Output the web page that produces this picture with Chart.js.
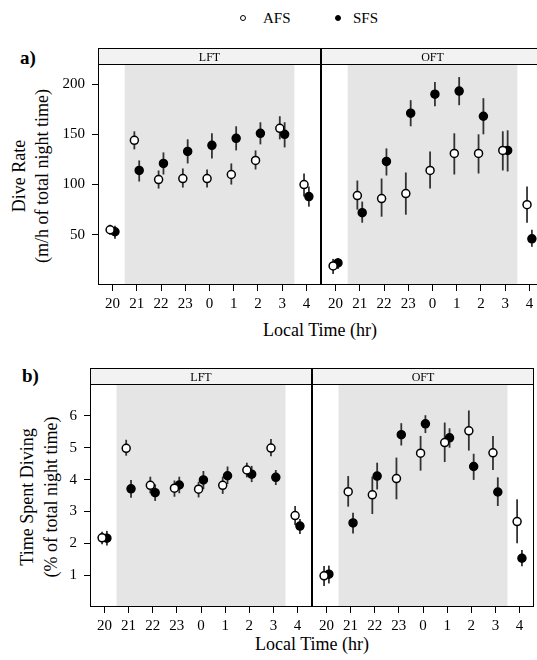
<!DOCTYPE html>
<html>
<head>
<meta charset="utf-8">
<script src="https://cdn.jsdelivr.net/npm/chart.js@4/dist/chart.umd.min.js"></script>
<style>
  html, body { margin: 0; padding: 0; background: #fff; overflow: hidden; }
  body { width: 537px; height: 660px; position: relative; font-family: "Liberation Serif", "Times New Roman", serif; color: #000; }
  canvas { position: absolute; }
  .txt { position: absolute; white-space: nowrap; line-height: 1; }
  .rot { transform: translate(-50%, -50%) rotate(-90deg); text-align: center; font-size: 18px; }
  .dot { position: absolute; width: 6px; height: 6px; border-radius: 50%; border: 1.5px solid #000; box-sizing: border-box; }
</style>
</head>
<body>

<div class="dot" style="left:240px; top:15px; background:#fff;"></div>
<div class="txt" style="left:263px; top:11px; font-size:15px;">AFS</div>
<div class="dot" style="left:335px; top:15px; background:#000;"></div>
<div class="txt" style="left:353px; top:11px; font-size:15px;">SFS</div>

<div class="txt" style="left:20px; top:48px; font-size:19px; font-weight:bold;">a)</div>
<div class="txt" style="left:22px; top:366px; font-size:19px; font-weight:bold;">b)</div>

<div class="txt rot" style="left:19px; top:176px;">Dive Rate</div>
<div class="txt rot" style="left:42px; top:176px;">(m/h of total night time)</div>
<div class="txt rot" style="left:27px; top:497px;">Time Spent Diving</div>
<div class="txt rot" style="left:51px; top:497px;">(% of total night time)</div>

<div class="txt" style="left:320px; top:321px; font-size:18px; transform:translateX(-50%);">Local Time (hr)</div>
<div class="txt" style="left:312px; top:635px; font-size:18px; transform:translateX(-50%);">Local Time (hr)</div>

<canvas id="aL" width="281" height="272" style="left:40px; top:48px;"></canvas>
<canvas id="aO" width="223" height="272" style="left:321px; top:48px;"></canvas>
<canvas id="bL" width="282" height="274" style="left:30px; top:368px;"></canvas>
<canvas id="bO" width="222" height="274" style="left:312px; top:368px;"></canvas>

<script>
// hours of the night, 20:00 to 04:00
const hours = ["20", "21", "22", "23", "0", "1", "2", "3", "4"];

// a) dive rate, LFT
const diveAfsLft = [55, 144, 105, 106, 106, 110, 124, 156, 100];
const diveAfsLftLo = [50, 135, 96, 97, 97, 100, 115, 145, 88];
const diveAfsLftHi = [60, 153, 114, 116, 115, 121, 134, 168, 111];
const diveSfsLft = [53, 114, 121, 133, 139, 146, 151, 150, 88];
const diveSfsLftLo = [46, 103, 110, 121, 126, 134, 140, 137, 78];
const diveSfsLftHi = [59, 124, 132, 145, 151, 158, 162, 162, 98];

// a) dive rate, OFT
const diveAfsOft = [19, 89, 86, 91, 114, 131, 131, 134, 80];
const diveAfsOftLo = [11, 75, 68, 70, 96, 110, 111, 114, 62];
const diveAfsOftHi = [26, 104, 106, 112, 133, 151, 150, 153, 98];
const diveSfsOft = [22, 72, 123, 171, 190, 193, 168, 134, 46];
const diveSfsOftLo = [16, 62, 109, 158, 178, 179, 150, 113, 38];
const diveSfsOftHi = [27, 83, 136, 184, 202, 207, 186, 154, 55];

// b) time spent diving, LFT
const timeAfsLft = [2.17, 4.98, 3.82, 3.73, 3.70, 3.82, 4.30, 4.99, 2.87];
const timeAfsLftLo = [1.97, 4.75, 3.57, 3.46, 3.44, 3.55, 4.07, 4.73, 2.57];
const timeAfsLftHi = [2.36, 5.25, 4.09, 3.97, 3.93, 4.09, 4.53, 5.27, 3.17];
const timeSfsLft = [2.16, 3.71, 3.59, 3.83, 3.99, 4.12, 4.17, 4.07, 2.54];
const timeSfsLftLo = [1.93, 3.43, 3.33, 3.57, 3.70, 3.86, 3.92, 3.83, 2.29];
const timeSfsLftHi = [2.39, 3.99, 3.85, 4.09, 4.27, 4.41, 4.43, 4.30, 2.76];

// b) time spent diving, OFT
const timeAfsOft = [0.98, 3.62, 3.52, 4.03, 4.83, 5.16, 5.53, 4.84, 2.68];
const timeAfsOftLo = [0.66, 3.15, 2.92, 3.38, 4.28, 4.55, 4.91, 4.30, 2.00];
const timeAfsOftHi = [1.29, 4.11, 4.09, 4.69, 5.37, 5.79, 6.17, 5.37, 3.38];
const timeSfsOft = [1.03, 2.64, 4.11, 5.41, 5.75, 5.31, 4.41, 3.61, 1.53];
const timeSfsOftLo = [0.74, 2.31, 3.69, 5.07, 5.46, 5.00, 3.99, 3.17, 1.28];
const timeSfsOftHi = [1.30, 2.96, 4.53, 5.77, 6.02, 5.61, 4.81, 4.07, 1.79];

const diveTicks = [50, 100, 150, 200];
const timeTicks = [1, 2, 3, 4, 5, 6];

// night period shaded (between 20-21 and 3-4)
const nightFrom = 0.5;
const nightTo = 7.5;
const groupShift = 0.1;

const SERIF = "'Liberation Serif', 'Times New Roman', serif";
Chart.defaults.font.family = SERIF;
Chart.defaults.color = "#000";

const STRIP_H = 16;

const panelPlugin = {
  id: "panel",
  beforeDatasetsDraw(chart) {
    const { ctx, chartArea: a, scales } = chart;
    const x = scales.x;
    const y = scales.y;
    ctx.save();
    ctx.fillStyle = "#e5e5e5";
    const x0 = x.getPixelForValue(nightFrom);
    const x1 = x.getPixelForValue(nightTo);
    ctx.fillRect(x0, a.top, x1 - x0, a.bottom - a.top);

    // error bars under the points
    ctx.strokeStyle = "#333";
    ctx.lineWidth = 1.8;
    chart.data.datasets.forEach((ds) => {
      ds.data.forEach((p, i) => {
        const px = x.getPixelForValue(p.x);
        ctx.beginPath();
        ctx.moveTo(px, y.getPixelForValue(ds.errLo[i]));
        ctx.lineTo(px, y.getPixelForValue(ds.errHi[i]));
        ctx.stroke();
      });
    });
    ctx.restore();
  },
  afterDraw(chart, args, opts) {
    const { ctx, chartArea: a } = chart;
    ctx.save();
    ctx.strokeStyle = "#000";
    ctx.lineWidth = 1;
    const l = Math.round(a.left) + 0.5;
    const r = Math.round(a.right) - 0.5;
    const t = Math.round(a.top) + 0.5;
    const b = Math.round(a.bottom) - 0.5;
    ctx.strokeRect(l, t, r - l, b - t);
    // strip with panel name
    ctx.fillStyle = "#f2f2f2";
    ctx.fillRect(l, t - STRIP_H, r - l, STRIP_H);
    ctx.strokeRect(l, t - STRIP_H, r - l, STRIP_H);
    ctx.fillStyle = "#000";
    ctx.font = "12px " + SERIF;
    ctx.textAlign = "center";
    ctx.textBaseline = "middle";
    ctx.fillText(opts.label, (l + r) / 2, t - STRIP_H / 2 + 1);
    ctx.restore();
  },
};

function series(vals, lo, hi, shift, filled) {
  return {
    data: vals.map((v, i) => ({ x: i + shift, y: v })),
    errLo: lo,
    errHi: hi,
    pointRadius: 4,
    pointHoverRadius: 4,
    pointBorderWidth: 1.5,
    pointBackgroundColor: filled ? "#000" : "#fff",
    pointBorderColor: "#000",
    showLine: false,
  };
}

function makePanel(id, label, yMin, yMax, yTicks, yAxisWidth, afs, sfs) {
  new Chart(document.getElementById(id), {
    type: "scatter",
    data: { datasets: [afs, sfs] },
    options: {
      responsive: false,
      animation: false,
      events: [],
      layout: { autoPadding: false, padding: { top: STRIP_H, right: 0, left: 0, bottom: 0 } },
      plugins: {
        legend: { display: false },
        tooltip: { enabled: false },
        panel: { label: label },
      },
      scales: {
        x: {
          type: "linear",
          min: -0.6,
          max: 8.6,
          afterBuildTicks: (s) => { s.ticks = hours.map((h, i) => ({ value: i })); },
          afterFit: (s) => {
            s.height = 35;
            s.paddingLeft = 0;
            s.paddingRight = 0;
          },
          ticks: {
            callback: (v) => hours[v],
            font: { family: SERIF, size: 15 },
            padding: 4,
            maxRotation: 0,
            autoSkip: false,
          },
          grid: { drawOnChartArea: false, drawTicks: true, tickLength: 6, color: "#000" },
          border: { display: false },
        },
        y: {
          display: yAxisWidth > 0,
          min: yMin,
          max: yMax,
          afterBuildTicks: (s) => { s.ticks = yTicks.map((v) => ({ value: v })); },
          afterFit: (s) => {
            s.width = yAxisWidth;
            s.paddingTop = 0;
            s.paddingBottom = 0;
          },
          ticks: { font: { family: SERIF, size: 15 }, padding: 7 },
          grid: { drawOnChartArea: false, drawTicks: true, tickLength: 6, color: "#000" },
          border: { display: false },
        },
      },
    },
    plugins: [panelPlugin],
  });
}

makePanel("aL", "LFT", 0, 220, diveTicks, 58,
  series(diveAfsLft, diveAfsLftLo, diveAfsLftHi, -groupShift, false),
  series(diveSfsLft, diveSfsLftLo, diveSfsLftHi, groupShift, true));
makePanel("aO", "OFT", 0, 220, diveTicks, 0,
  series(diveAfsOft, diveAfsOftLo, diveAfsOftHi, -groupShift, false),
  series(diveSfsOft, diveSfsOftLo, diveSfsOftHi, groupShift, true));
makePanel("bL", "LFT", 0, 7, timeTicks, 60,
  series(timeAfsLft, timeAfsLftLo, timeAfsLftHi, -groupShift, false),
  series(timeSfsLft, timeSfsLftLo, timeSfsLftHi, groupShift, true));
makePanel("bO", "OFT", 0, 7, timeTicks, 0,
  series(timeAfsOft, timeAfsOftLo, timeAfsOftHi, -groupShift, false),
  series(timeSfsOft, timeSfsOftLo, timeSfsOftHi, groupShift, true));
</script>
</body>
</html>
